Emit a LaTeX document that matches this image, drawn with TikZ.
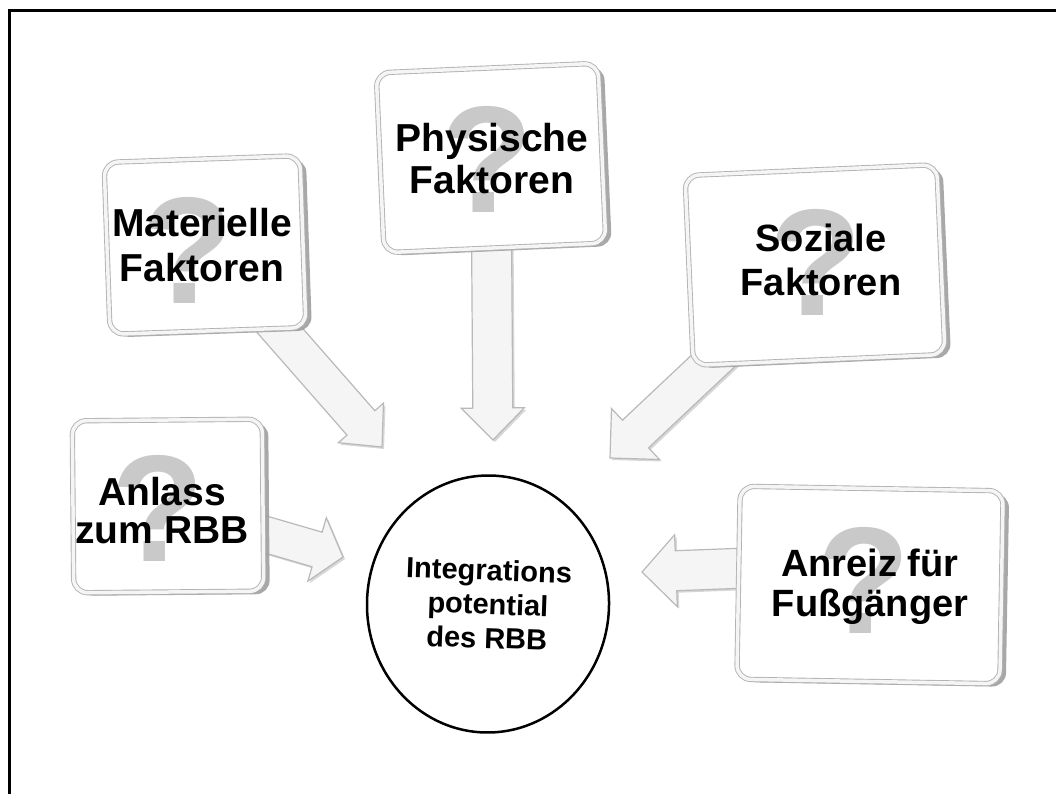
\documentclass[tikz,border=0pt]{standalone}
\usepackage{fontspec}
\setmainfont{Liberation Sans}
\usetikzlibrary{calc,shapes.geometric,shadows}
\pgfdeclarelayer{back}
\pgfsetlayers{back,main}
% block arrow: from, to, shaft half width, head half width, head length
\newcommand\blockarr[5]{%
  \coordinate (hb) at ($(#2)!#5!(#1)$);
  \draw[blockarrow]
    ($(#1)!#3!90:(#2)$) -- ($(hb)!#3!90:(#2)$) -- ($(hb)!#4!90:(#2)$) -- (#2)
    -- ($(hb)!#4!-90:(#2)$) -- ($(hb)!#3!-90:(#2)$) -- ($(#1)!#3!-90:(#2)$) -- cycle;
}
\begin{document}
\begin{tikzpicture}[x=1pt,y=-1pt,
  qbox/.style={rounded corners=14pt, draw=gray!60, line width=0.9pt,
    double=gray!8, double distance=3.5pt, fill=white, inner sep=0,
    drop shadow={shadow xshift=6pt, shadow yshift=-3pt, fill=gray!75, opacity=0.9}},
  qmark/.style={text=gray!42, font=\fontsize{152}{152}\selectfont\bfseries, inner sep=0},
  lbl/.style={align=center, inner sep=0},
  blockarrow/.style={fill=gray!8, draw=gray!55, line width=1.2pt, line join=miter,
    drop shadow={shadow xshift=2pt, shadow yshift=-2pt, fill=gray!45, opacity=0.7}}]
\useasboundingbox (0,0) rectangle (1056,794);
\draw[line width=3pt] (9,794) -- (9,11) -- (1056,11);

% boxes
\node[qbox, minimum width=196, minimum height=172, rotate=2] (mat) at (205,245) {};
\node[qmark] (matq) at (188,250) {?};
\node[lbl, font=\fontsize{39}{45}\selectfont\bfseries] (matt) at (202,245) {Materielle\\Faktoren};

\node[qbox, minimum width=222, minimum height=180, rotate=2.5] (phy) at (491,158) {};
\node[qmark] (phyq) at (487,159) {?};
\node[lbl, font=\fontsize{39}{42}\selectfont\bfseries] (phyt) at (492,159) {Physische\\Faktoren};

\node[qbox, minimum width=252, minimum height=190, rotate=2.5] (soz) at (815,265) {};
\node[qmark] (sozq) at (816,262) {?};
\node[lbl, font=\fontsize{38}{44}\selectfont\bfseries] (sozt) at (821,260) {Soziale\\Faktoren};

\node[qbox, minimum width=190, minimum height=172, rotate=0.5] (anl) at (168,506) {};
\node[qmark] (anlq) at (158,508) {?};
\node[lbl, font=\fontsize{39}{38}\selectfont\bfseries] (anlt) at (162,511) {Anlass\\zum RBB};

\node[qbox, minimum width=263, minimum height=193, rotate=-1] (anr) at (870,585) {};
\node[qmark] (anrq) at (864,580) {?};
\node[lbl, font=\fontsize{38}{40}\selectfont\bfseries] (anrt) at (870,587) {Anreiz für\\Fußgänger};

% centre
\node[ellipse, draw, line width=2.5pt, minimum width=242, minimum height=257, inner sep=0,
  align=center, font=\fontsize{29}{34}\selectfont\bfseries, rotate=-2] (c) at (488,604)
  {Integrations\\potential\\des RBB};

% arrow tips and free end
\coordinate (mt) at (382,447);
\coordinate (pt) at (493,440);
\coordinate (st) at (610,458);
\coordinate (at) at (343,557);
\coordinate (rt) at (642,572);
\coordinate (rs) at (800,566);

\begin{pgfonlayer}{back}
\blockarr{mat.center}{mt}{18.5pt}{30pt}{32pt}
\blockarr{phy.center}{pt}{20pt}{31.5pt}{32pt}
\blockarr{soz.center}{st}{19pt}{35pt}{35pt}
\blockarr{anl.center}{at}{18pt}{33pt}{27pt}
\blockarr{rs}{rt}{20pt}{36pt}{34pt}
\end{pgfonlayer}
\end{tikzpicture}
\end{document}
